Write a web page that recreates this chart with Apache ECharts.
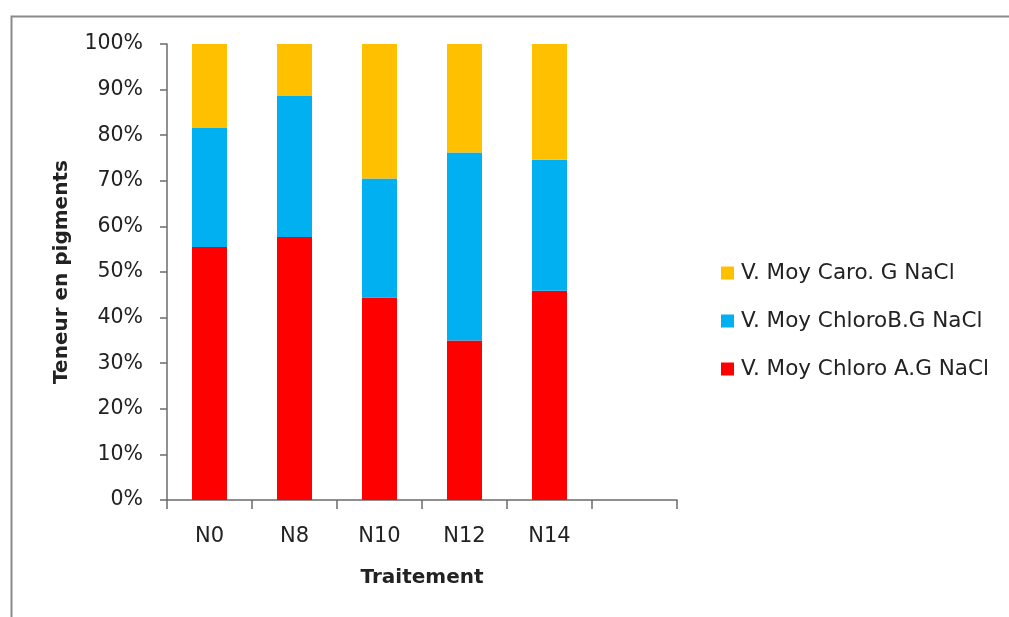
<!DOCTYPE html>
<html><head><meta charset="utf-8">
<script src="https://cdn.jsdelivr.net/npm/echarts@6/dist/echarts.min.js"></script>
<style>html,body{margin:0;padding:0;background:#fff}#c{width:1009px;height:617px}</style>
</head><body><div id="c"></div>
<script>
const categories = ['N0', 'N8', 'N10', 'N12', 'N14', ''];
const chloroA = [55.5, 57.7, 44.4, 35.0, 45.9];
const chloroB = [26.2, 31.0, 26.1, 41.2, 28.7];
const caro = [18.3, 11.3, 29.5, 23.8, 25.4];
const yTicks = [0, 10, 20, 30, 40, 50, 60, 70, 80, 90, 100];

const FONT = 'DejaVu Sans';
const axisColor = '#6b6b6b';
const chart = echarts.init(document.getElementById('c'), null, {renderer: 'canvas'});
chart.setOption({
  animation: false,
  textStyle: {fontFamily: FONT},
  graphic: [{
    type: 'rect', left: 9, top: 14, silent: true,
    shape: {width: 1010, height: 620},
    style: {fill: 'none', stroke: '#8a8a8a', lineWidth: 2}
  }],
  grid: {left: 167, top: 44, right: 332, bottom: 117, containLabel: false},
  legend: {
    orient: 'vertical', left: 716, top: 257, itemGap: 26,
    itemWidth: 13, itemHeight: 13, icon: 'rect',
    data: ['V. Moy Caro. G NaCl', 'V. Moy ChloroB.G NaCl', 'V. Moy Chloro A.G NaCl'],
    textStyle: {fontFamily: FONT, fontSize: 21.5, color: '#222', padding: [0, 0, 0, 2]}
  },
  xAxis: {
    type: 'category', data: categories,
    name: 'Traitement', nameLocation: 'middle', nameGap: 68,
    nameTextStyle: {fontFamily: FONT, fontSize: 20, fontWeight: 'bold', color: '#222'},
    axisLine: {lineStyle: {color: axisColor, width: 1.5}},
    axisTick: {show: true, alignWithLabel: false, length: 9, lineStyle: {color: axisColor, width: 1.5}},
    axisLabel: {fontFamily: FONT, fontSize: 21, color: '#222', margin: 26}
  },
  yAxis: {
    type: 'value', min: 0, max: 100, interval: 10,
    name: 'Teneur en pigments', nameLocation: 'middle', nameGap: 95, nameRotate: 90,
    nameTextStyle: {fontFamily: FONT, fontSize: 20, fontWeight: 'bold', color: '#222'},
    splitLine: {show: false},
    axisLine: {show: true, lineStyle: {color: axisColor, width: 1.5}},
    axisTick: {show: true, length: 7, lineStyle: {color: axisColor, width: 1.5}},
    axisLabel: {fontFamily: FONT, fontSize: 20.5, color: '#222', margin: 24,
      formatter: v => yTicks.includes(v) ? v + '%' : ''}
  },
  series: [
    {name: 'V. Moy Chloro A.G NaCl', type: 'bar', stack: 't', data: chloroA, barWidth: 35, itemStyle: {color: '#FF0000'}},
    {name: 'V. Moy ChloroB.G NaCl', type: 'bar', stack: 't', data: chloroB, barWidth: 35, itemStyle: {color: '#00B0F0'}},
    {name: 'V. Moy Caro. G NaCl', type: 'bar', stack: 't', data: caro, barWidth: 35, itemStyle: {color: '#FFC000'}}
  ]
});
</script></body></html>
